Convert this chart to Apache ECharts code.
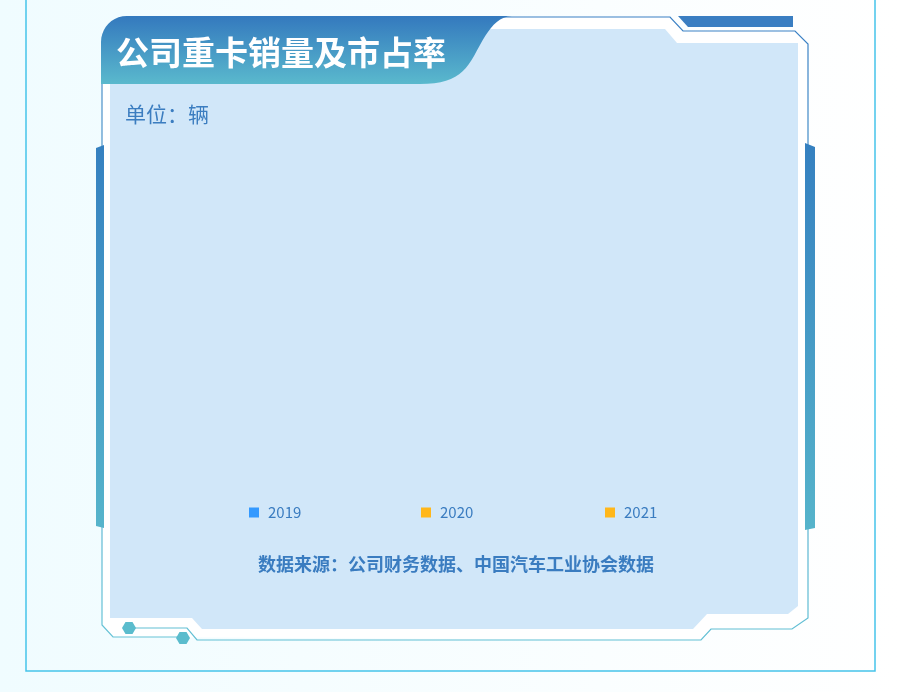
<!DOCTYPE html>
<html>
<head>
<meta charset="utf-8">
<title>公司重卡销量及市占率</title>
<script src="https://cdn.jsdelivr.net/npm/echarts@6/dist/echarts.min.js"></script>
<style>
  html, body { margin: 0; padding: 0; }
  #main { width: 900px; height: 692px; }
</style>
</head>
<body>
<div id="main"></div>
<script>
// 数据（图中未画出任何柱形，仅保留图例）
var categories = [];
var years = ['2019', '2020', '2021'];
var sales2019 = [];
var sales2020 = [];
var sales2021 = [];
var yearColors = ['#3399ff', '#ffb71b', '#ffb71b'];

var titleText = '公司重卡销量及市占率';
var unitText = '单位：辆';
var sourceText = '数据来源：公司财务数据、中国汽车工业协会数据';

var FONT = '"Noto Sans CJK SC", "Noto Sans", sans-serif';

function hexagon(cx, cy, r) {
    var pts = [];
    for (var i = 0; i < 6; i++) {
        var a = Math.PI / 3 * i;
        pts.push([cx + r * Math.cos(a), cy + r * Math.sin(a)]);
    }
    return pts;
}

// 三次贝塞尔取点，拼出标题底板的弧形边
function bezier(p0, p1, p2, p3, n) {
    var pts = [];
    for (var i = 1; i <= n; i++) {
        var t = i / n, u = 1 - t;
        pts.push([
            u * u * u * p0[0] + 3 * u * u * t * p1[0] + 3 * u * t * t * p2[0] + t * t * t * p3[0],
            u * u * u * p0[1] + 3 * u * u * t * p1[1] + 3 * u * t * t * p2[1] + t * t * t * p3[1]
        ]);
    }
    return pts;
}

function tabShape() {
    var pts = [[101, 84], [101, 42]];
    pts = pts.concat(bezier([101, 42], [101, 28], [112, 16], [127, 16], 10));
    pts.push([512, 16]);
    pts = pts.concat(bezier([512, 16], [494, 17], [486, 34], [474, 56], 12));
    pts = pts.concat(bezier([474, 56], [464, 74], [452, 84], [420, 84], 12));
    return pts;
}

function vGrad(c1, c2) {
    return new echarts.graphic.LinearGradient(0, 0, 0, 1, [
        { offset: 0, color: c1 },
        { offset: 1, color: c2 }
    ]);
}

var myChart = echarts.init(document.getElementById('main'));

var legendTextStyle = { color: '#3a7cc0', fontSize: 15, fontFamily: FONT, padding: [0, 0, 0, 4] };
var legendBase = { top: 500, icon: 'rect', itemWidth: 10, itemHeight: 10, textStyle: legendTextStyle };

myChart.setOption({
    backgroundColor: new echarts.graphic.LinearGradient(0, 0, 1, 0, [
        { offset: 0, color: '#f0fcff' },
        { offset: 1, color: '#ffffff' }
    ]),
    textStyle: { fontFamily: FONT },
    color: yearColors,
    legend: [
        Object.assign({ data: [years[0]], left: 244 }, legendBase),
        Object.assign({ data: [years[1]], left: 416 }, legendBase),
        Object.assign({ data: [years[2]], left: 600 }, legendBase)
    ],
    grid: { left: 130, right: 120, top: 150, bottom: 200 },
    xAxis: { type: 'category', data: categories, show: false },
    yAxis: { type: 'value', show: false },
    series: [
        { name: years[0], type: 'bar', data: sales2019 },
        { name: years[1], type: 'bar', data: sales2020 },
        { name: years[2], type: 'bar', data: sales2021 }
    ],
    graphic: [
        // 外框
        { type: 'polyline', z: -10, shape: { points: [[26, 0], [26, 671], [875, 671], [875, 0]] },
          style: { stroke: '#45c3ea', lineWidth: 1.5, fill: null } },
        // 面板白底
        { type: 'polygon', z: -9, shape: { points: [[102, 30], [515, 17], [670, 17], [683, 31], [795, 31], [808, 44],
            [808, 618], [792, 629], [711, 629], [701, 640], [113, 637], [102, 625]] },
          style: { fill: '#ffffff' } },
        // 浅蓝内底
        { type: 'polygon', z: -8, shape: { points: [[110, 29], [665, 29], [677, 43], [798, 43], [798, 606], [788, 614],
            [707, 614], [693, 629], [202, 629], [192, 618], [110, 618]] },
          style: { fill: '#d1e7f9' } },
        // 描边
        { type: 'polyline', z: -7, shape: { points: [[500, 17], [670, 17], [683, 31], [795, 31], [808, 44], [808, 618],
            [792, 629], [711, 629], [701, 640], [197, 640], [187, 628], [129, 628]] },
          style: { stroke: vGrad('#3a7fc4', '#62c0d4'), lineWidth: 1.2, fill: null } },
        { type: 'polyline', z: -7, shape: { points: [[102, 84], [102, 625], [113, 637], [183, 637]] },
          style: { stroke: vGrad('#4a8ec8', '#66c3d6'), lineWidth: 1.2, fill: null } },
        // 六边形装饰
        { type: 'polygon', z: -6, shape: { points: hexagon(129, 628, 7) }, style: { fill: '#5bbccd' } },
        { type: 'polygon', z: -6, shape: { points: hexagon(183, 638, 7) }, style: { fill: '#5bbccd' } },
        // 右上深蓝条
        { type: 'polygon', z: -6, shape: { points: [[678, 16], [793, 16], [793, 27], [688, 27]] },
          style: { fill: '#3a7ec2' } },
        // 两侧竖条
        { type: 'polygon', z: -6, shape: { points: [[96, 148], [104, 145], [104, 528], [96, 526]] },
          style: { fill: vGrad('#3580c0', '#56b4cb') } },
        { type: 'polygon', z: -6, shape: { points: [[805, 143], [815, 147], [815, 528], [805, 530]] },
          style: { fill: vGrad('#3580c0', '#56b4cb') } },
        // 标题底板
        { type: 'polygon', z: -5, shape: { points: tabShape() },
          style: { fill: vGrad('#3479be', '#5ab9cd') } },
        { type: 'text', left: 116, top: 36, style: { text: titleText, fill: '#ffffff', font: 'bold 33px ' + FONT } },
        { type: 'text', left: 125, top: 104, style: { text: unitText, fill: '#3b7dc0', font: '21px ' + FONT } },
        { type: 'text', left: 258, top: 555, style: { text: sourceText, fill: '#3a7cc0', font: 'bold 18px ' + FONT } }
    ]
});
</script>
</body>
</html>
